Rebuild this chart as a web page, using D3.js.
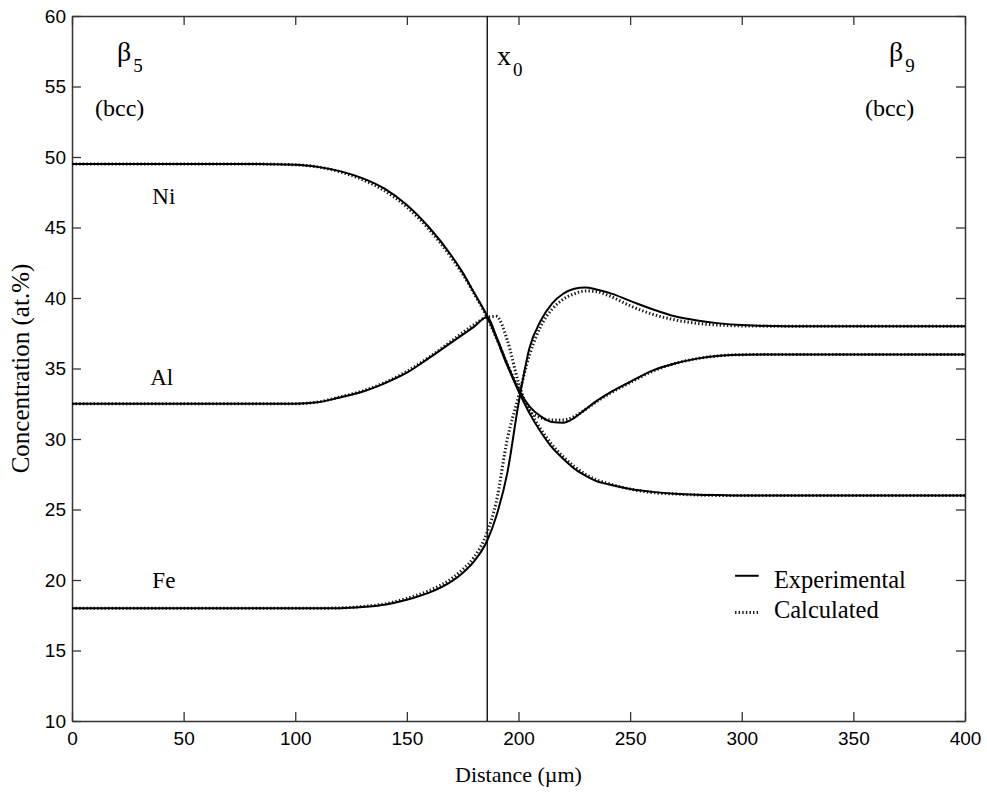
<!DOCTYPE html>
<html>
<head>
<meta charset="utf-8">
<script src="https://cdn.jsdelivr.net/npm/d3@7"></script>
<style>
  html, body { margin: 0; padding: 0; background: #fff; }
  svg { display: block; }
  .tick text { font-family: "Liberation Sans", Arial, sans-serif; font-size: 19px; fill: #000; }
  .serif { font-family: "Liberation Serif", "Times New Roman", serif; fill: #000; }
</style>
</head>
<body>
<svg id="chart" width="987" height="797"></svg>
<script>
// Diffusion couple profile: distance (µm) vs concentration (at.%)
const distance = [0, 20, 40, 60, 80, 100, 110, 120, 130, 140, 150, 160, 170, 175, 180, 186, 190, 195, 200, 205, 210, 215, 220, 225, 230, 235, 240, 250, 260, 270, 280, 290, 300, 320, 340, 360, 380, 400];

// Experimental profiles
const niExp = [49.5, 49.5, 49.5, 49.5, 49.5, 49.45, 49.3, 49.0, 48.5, 47.75, 46.6, 45.0, 43.0, 41.8, 40.4, 38.7, 37.2, 35.2, 33.4, 31.8, 30.5, 29.4, 28.6, 27.9, 27.4, 27.0, 26.8, 26.45, 26.25, 26.12, 26.05, 26.02, 26.0, 26.0, 26.0, 26.0, 26.0, 26.0];
const alExp = [32.5, 32.5, 32.5, 32.5, 32.5, 32.5, 32.6, 32.95, 33.35, 33.95, 34.7, 35.75, 36.85, 37.4, 37.95, 38.65, 37.3, 35.3, 33.5, 32.3, 31.6, 31.2, 31.15, 31.5, 32.1, 32.7, 33.2, 34.05, 34.85, 35.35, 35.7, 35.9, 35.98, 36.0, 36.0, 36.0, 36.0, 36.0];
const feExp = [18.0, 18.0, 18.0, 18.0, 18.0, 18.0, 18.0, 18.0, 18.08, 18.25, 18.6, 19.1, 19.9, 20.5, 21.3, 22.8, 24.5, 27.6, 32.5, 36.5, 38.4, 39.6, 40.3, 40.65, 40.75, 40.6, 40.4, 39.8, 39.2, 38.7, 38.4, 38.2, 38.08, 38.0, 38.0, 38.0, 38.0, 38.0];

// Calculated profiles
const niCalc = [49.5, 49.5, 49.5, 49.5, 49.5, 49.45, 49.3, 48.95, 48.4, 47.6, 46.45, 44.85, 42.85, 41.7, 40.35, 38.6, 37.2, 35.3, 33.6, 32.0, 30.7, 29.6, 28.75, 28.05, 27.5, 27.1, 26.85, 26.45, 26.2, 26.1, 26.03, 26.0, 26.0, 26.0, 26.0, 26.0, 26.0, 26.0];
const alCalc = [32.5, 32.5, 32.5, 32.5, 32.5, 32.5, 32.62, 32.98, 33.4, 34.0, 34.8, 35.8, 36.95, 37.55, 38.1, 38.65, 38.7, 37.0, 34.0, 32.0, 31.5, 31.35, 31.35, 31.6, 32.1, 32.65, 33.15, 34.0, 34.8, 35.35, 35.7, 35.9, 35.98, 36.0, 36.0, 36.0, 36.0, 36.0];
const feCalc = [18.0, 18.0, 18.0, 18.0, 18.0, 18.0, 18.0, 18.02, 18.12, 18.3, 18.7, 19.25, 20.1, 20.75, 21.6, 23.4, 25.5, 30.0, 33.0, 36.0, 38.0, 39.2, 39.9, 40.3, 40.5, 40.45, 40.2, 39.45, 38.85, 38.45, 38.2, 38.08, 38.02, 38.0, 38.0, 38.0, 38.0, 38.0];

const xTicks = [0, 50, 100, 150, 200, 250, 300, 350, 400];
const yTicks = [10, 15, 20, 25, 30, 35, 40, 45, 50, 55, 60];
const interfacePos = 186; // x0

const svg = d3.select("#chart");
const plotLeft = 72, plotRight = 965, plotTop = 16, plotBottom = 721;

const x = d3.scaleLinear().domain([0, 400]).range([plotLeft, plotRight]);
const y = d3.scaleLinear().domain([10, 60]).range([plotBottom, plotTop]);

const axisColor = "#333";

// Axes with inward ticks on all four sides
function styleAxis(g) {
  g.select(".domain").attr("stroke", axisColor).attr("stroke-width", 1.5);
  g.selectAll(".tick line").attr("stroke", axisColor).attr("stroke-width", 1.3);
}
svg.append("g").attr("transform", `translate(0,${plotBottom})`)
  .call(d3.axisBottom(x).tickValues(xTicks).tickSize(-9).tickPadding(11).tickSizeOuter(0))
  .call(styleAxis);
svg.append("g").attr("transform", `translate(${plotLeft},0)`)
  .call(d3.axisLeft(y).tickValues(yTicks).tickSize(-9).tickPadding(6).tickSizeOuter(0))
  .call(styleAxis);
svg.append("g").attr("transform", `translate(0,${plotTop})`)
  .call(d3.axisTop(x).tickValues(xTicks).tickSize(-9).tickFormat("").tickSizeOuter(0))
  .call(styleAxis);
svg.append("g").attr("transform", `translate(${plotRight},0)`)
  .call(d3.axisRight(y).tickValues(yTicks).tickSize(-9).tickFormat("").tickSizeOuter(0))
  .call(styleAxis);
svg.selectAll(".tick text").attr("fill", "#000");

// Interface position x0
svg.append("line")
  .attr("x1", x(interfacePos)).attr("x2", x(interfacePos))
  .attr("y1", y(60)).attr("y2", y(10))
  .attr("stroke", "#000").attr("stroke-width", 1.3);

const line = d3.line()
  .x((d, i) => x(distance[i]))
  .y(d => y(d))
  .curve(d3.curveMonotoneX);

const calcSeries = [niCalc, alCalc, feCalc];
const expSeries = [niExp, alExp, feExp];
const dotted = { color: "#1a1a1a", width: 3, dash: "1.4,2.2" };

svg.append("g").selectAll("path").data(calcSeries).join("path")
  .attr("d", line)
  .attr("fill", "none")
  .attr("stroke", dotted.color)
  .attr("stroke-width", dotted.width)
  .attr("stroke-dasharray", dotted.dash);

svg.append("g").selectAll("path").data(expSeries).join("path")
  .attr("d", line)
  .attr("fill", "none")
  .attr("stroke", "#000")
  .attr("stroke-width", 2);

// Element labels
const elementLabels = [
  { text: "Ni", at: [36, 46.7] },
  { text: "Al", at: [35, 33.8] },
  { text: "Fe", at: [36, 19.4] }
];
svg.append("g").selectAll("text").data(elementLabels).join("text")
  .attr("class", "serif")
  .attr("x", d => x(d.at[0]))
  .attr("y", d => y(d.at[1]))
  .attr("font-size", 23)
  .text(d => d.text);

// Phase labels with subscripts
function subLabel(base, sub, xv, yv) {
  const t = svg.append("text").attr("class", "serif")
    .attr("x", x(xv)).attr("y", y(yv)).attr("font-size", 28);
  t.append("tspan").text(base);
  t.append("tspan").attr("font-size", 19).attr("dx", 2).attr("dy", 11).text(sub);
}
subLabel("β", "5", 20.2, 56.8);
subLabel("β", "9", 366, 56.8);
subLabel("x", "0", 190.4, 56.5);

svg.append("text").attr("class", "serif").attr("font-size", 24)
  .attr("x", x(10.3)).attr("y", y(52.9)).text("(bcc)");
svg.append("text").attr("class", "serif").attr("font-size", 24)
  .attr("x", x(355.2)).attr("y", y(52.9)).text("(bcc)");

// Legend
const legend = svg.append("g");
legend.append("line")
  .attr("x1", x(297)).attr("x2", x(307.6))
  .attr("y1", y(20.3)).attr("y2", y(20.3))
  .attr("stroke", "#000").attr("stroke-width", 2);
legend.append("line")
  .attr("x1", x(297)).attr("x2", x(307.6))
  .attr("y1", y(17.7)).attr("y2", y(17.7))
  .attr("stroke", dotted.color).attr("stroke-width", dotted.width).attr("stroke-dasharray", dotted.dash);
legend.append("text").attr("class", "serif").attr("font-size", 24.5)
  .attr("x", x(314.4)).attr("y", y(19.4)).text("Experimental");
legend.append("text").attr("class", "serif").attr("font-size", 24.5)
  .attr("x", x(314.4)).attr("y", y(17.3)).text("Calculated");

// Axis titles
svg.append("text").attr("class", "serif").attr("font-size", 22)
  .attr("text-anchor", "middle")
  .attr("x", (plotLeft + plotRight) / 2).attr("y", plotBottom + 61)
  .text("Distance (µm)");
svg.append("text").attr("class", "serif").attr("font-size", 25)
  .attr("text-anchor", "middle")
  .attr("transform", `translate(29,${(plotTop + plotBottom) / 2}) rotate(-90)`)
  .text("Concentration (at.%)");
</script>
</body>
</html>
